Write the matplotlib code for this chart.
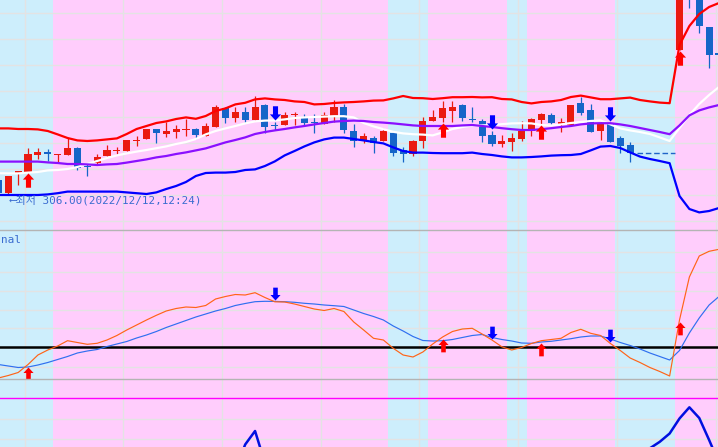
import numpy as np
import matplotlib
matplotlib.use("Agg")
import matplotlib.pyplot as plt
from matplotlib.path import Path
from matplotlib.markers import MarkerStyle
import matplotlib.transforms as mtransforms

nan = np.nan

# ---------------- data (price panel) ----------------
open_ = [316, 309.5, 319, 320, 328.5, 330, 328.5, 328.5, 332, 323,
         324.5, 328, 330.5, 330.5, 335.5, 336.5, 341.5, 339, 340, 341,
         341.5, 338, 342.5, 352, 347, 350, 346, 353.5, 343.5, 343.5,
         348.5, 347.5, 345, 344, 348, 352.5, 340.5, 335.5, 337, 335.5,
         339.5, 331, 329, 335.5, 345.5, 347, 350.5, 353.5, 346.5, 345.5,
         338.5, 334, 335, 336.5, 340.5, 346, 348.5, 343.5, 343.5, 354.5,
         351, 340.5, 344, 337, 333.5, nan, nan, nan, nan, 381,
         421, 411, 392.5, 379.5]
close = [309.5, 318, 320.5, 329, 330, 329, 329, 332, 322, 322.5,
         327.5, 331, 331, 336, 336, 341.5, 339.5, 340.5, 341.5, 341.5,
         338.5, 343, 352.5, 347, 350, 346, 352.5, 342.5, 343, 348.5,
         349, 344.5, 344.5, 348.5, 352.5, 341, 335.5, 338, 334.5, 340.5,
         329.5, 329, 335.5, 345.5, 347.5, 352, 352.5, 347, 346, 338,
         334, 335.5, 337, 340.5, 346.5, 349, 344.5, 345, 353.5, 349.5,
         340, 344.5, 335, 333, 329.5, nan, nan, nan, nan, 411,
         408.5, 393, 378.5, 378.5]
high = [317, 318, 320.5, 332, 332, 331.5, 329, 337, 332.5, 324.5,
        329, 333.5, 332.5, 336, 338, 341.5, 341.5, 345, 343.5, 346.5,
        342, 344.5, 353.5, 352.5, 352.5, 352.5, 358, 354, 345, 350,
        350, 349, 349, 350, 356, 354, 344, 339.5, 338, 342,
        340.5, 332.5, 336, 347.5, 351, 355.5, 355.5, 354, 352.5, 346.5,
        340.5, 338.5, 339.5, 345.5, 347, 349.5, 349.5, 347, 353.5, 357.5,
        354, 345, 344.5, 338, 335, nan, nan, nan, nan, 416,
        423.5, 412, 392.5, 380]
low = [309.5, 309, 313.5, 320, 326.5, 325.5, 324.5, 328.5, 321, 318,
       324, 328, 329, 330.5, 333, 336.5, 334.5, 337.5, 337, 338,
       336.5, 338, 342.5, 344.5, 345, 344.5, 346, 339.5, 341, 343.5,
       343.5, 343, 339.5, 344, 345, 339.5, 332.5, 334.5, 329.5, 335.5,
       328, 325, 328, 332, 345.5, 345, 345, 345.5, 345, 335,
       333, 332.5, 330.5, 335.5, 338, 344, 343.5, 340, 343.5, 348.5,
       340, 336, 335, 329.5, 325, nan, nan, nan, nan, 381,
       402, 389.5, 372, 377]

upper_band = [341.8, 341.8, 341.5, 341.5, 341.3, 340.5, 338.8, 337.0, 335.8, 335.5,
              335.8, 336.3, 336.8, 339.0, 341.5, 343.0, 344.5, 345.3, 346.5, 347.3,
              346.6, 348.0, 350.5, 351.8, 353.8, 354.6, 356.3, 356.8, 356.3, 356.0,
              355.3, 355.0, 353.8, 354.0, 354.5, 354.8, 355.0, 355.3, 355.7, 355.8,
              356.8, 358.0, 357.0, 356.9, 356.5, 356.9, 357.4, 357.4, 357.5, 357.3,
              357.4, 356.5, 356.3, 355.0, 354.3, 355.0, 355.3, 356.0, 357.5, 358.2,
              357.3, 356.4, 356.4, 356.8, 357.2, 356.0, 355.3, 354.7, 354.4, 383.5,
              393.0, 399.0, 402.5, 404.5]
mid_band = [325.2, 325.2, 325.2, 325.2, 325.2, 324.8, 324.5, 324.0, 324.0, 323.8,
            323.5, 323.8, 324.0, 324.7, 325.5, 326.3, 327.3, 328.0, 329.0, 329.8,
            330.8, 331.8, 333.3, 334.8, 336.0, 337.3, 339.0, 340.0, 340.8, 341.5,
            342.3, 343.0, 343.8, 344.5, 345.2, 345.5, 345.7, 345.5, 345.0, 344.7,
            344.3, 343.8, 343.3, 343.0, 343.0, 343.0, 343.0, 343.3, 343.5, 343.0,
            342.5, 341.9, 341.4, 341.0, 341.0, 341.4, 341.9, 342.5, 343.0, 343.8,
            344.3, 344.4, 344.4, 343.8, 343.0, 342.0, 341.0, 340.0, 338.9, 343.3,
            348.3, 350.8, 352.3, 353.5]
lower_band = [308.5, 308.5, 308.5, 308.5, 308.5, 308.8, 309.4, 310.2, 310.2, 310.2,
              310.2, 310.2, 310.2, 309.8, 309.4, 309.0, 309.8, 311.5, 313.0, 315.0,
              318.0, 319.5, 319.7, 319.7, 320.0, 321.0, 321.3, 323.0, 325.3, 328.3,
              330.5, 332.8, 334.8, 336.3, 337.2, 337.2, 336.5, 335.8, 335.0, 334.3,
              332.3, 330.5, 329.7, 329.7, 329.5, 329.4, 329.4, 329.4, 329.7, 329.0,
              328.5, 327.8, 327.3, 327.3, 327.5, 327.8, 328.2, 328.4, 328.5, 329.0,
              330.8, 332.7, 333.0, 332.0, 329.8, 327.7, 326.5, 325.5, 324.4, 308.0,
              301.5, 299.8, 300.5, 302.0]
short_ma = [319.4, 319.3, 319.3, 319.7, 320.0, 320.8, 321.0, 321.5, 322.5, 324.0,
            325.5, 327.0, 328.3, 329.3, 330.2, 331.0, 331.9, 332.8, 334.0, 335.0,
            336.5, 338.8, 340.5, 341.8, 343.0, 344.3, 345.3, 345.7, 345.8, 346.3,
            347.0, 347.3, 347.5, 347.7, 347.9, 347.9, 347.3, 344.5, 342.8, 341.4,
            340.1, 339.3, 338.9, 338.7, 338.3, 339.8, 341.5, 342.5, 343.2, 343.3,
            343.5, 343.9, 344.3, 344.4, 344.3, 343.5, 343.3, 343.8, 344.5, 345.0,
            345.5, 345.8, 343.8, 341.8, 340.8, 340.0, 339.0, 337.3, 335.5, 342.0,
            348.5, 354.0, 358.5, 362.5]

# ---------------- data (MACD panel) ----------------
macd = [-3.1, -2.85, -2.55, -1.75, -0.8, -0.3, 0.1, 0.63, 0.45, 0.27,
        0.37, 0.7, 1.15, 1.7, 2.2, 2.7, 3.17, 3.6, 3.85, 4.0,
        3.95, 4.15, 4.8, 5.05, 5.25, 5.2, 5.43, 4.95, 4.52, 4.5,
        4.3, 4.05, 3.8, 3.65, 3.85, 3.55, 2.5, 1.7, 0.87, 0.7,
        -0.13, -0.8, -1.0, -0.5, 0.3, 1.0, 1.55, 1.8, 1.87, 1.3,
        0.7, 0.02, -0.3, -0.05, 0.35, 0.63, 0.75, 0.87, 1.45, 1.77,
        1.37, 1.15, 0.35, -0.35, -1.1, -1.55, -2.05, -2.45, -2.9, 2.7,
        7.0, 9.1, 9.57, 9.77]
signal = [-1.75, -1.9, -2.05, -2.0, -1.8, -1.55, -1.25, -0.95, -0.6, -0.4,
          -0.25, 0.05, 0.3, 0.55, 0.9, 1.2, 1.55, 1.95, 2.3, 2.65,
          3.0, 3.3, 3.6, 3.85, 4.15, 4.35, 4.53, 4.57, 4.56, 4.53,
          4.47, 4.37, 4.3, 4.2, 4.13, 4.05, 3.7, 3.35, 3.05, 2.7,
          2.1, 1.6, 1.05, 0.65, 0.6, 0.63, 0.75, 0.95, 1.15, 1.25,
          0.95, 0.75, 0.6, 0.4, 0.37, 0.5, 0.57, 0.7, 0.83, 1.0,
          1.1, 1.1, 0.8, 0.45, 0.15, -0.2, -0.6, -0.95, -1.3, -0.35,
          1.4, 2.9, 4.2, 5.05]

# ---------------- data (lower oscillator panel) ----------------
osc = [nan] * 23 + [0, 8, 33.5, 47, 15, 0] + [nan] * 34 + \
      [10, 17, 23.3, 29.7, 36.2, 44.5, 59.5, 70.7, 60, 38, 15]

buy_idx = [3, 45, 55, 69]
sell_idx = [28, 50, 62]
low_label = "⟵최저 306.00(2022/12/12,12:24)"
low_value = 306.0
panel_label = "nal"
osc_level = 80

# ---------------- styling ----------------
W, H = 718, 447
BLUE_BG = "#cdeefc"
PINK_BG = "#ffcdfc"
GRID = "#e3e3e3"
RED_C = "#ea1a10"
BLUE_C = "#1565c8"

slots = np.arange(len(open_))
o = np.array(open_, float); c = np.array(close, float)
hi = np.array(high, float); lo = np.array(low, float)

fig = plt.figure(figsize=(W / 100, H / 100), dpi=100)
ax1 = fig.add_axes([0, 1 - 230 / H, 1, 230 / H])
ax2 = fig.add_axes([0, 1 - 379 / H, 1, 149 / H])
ax3 = fig.add_axes([0, 0, 1, 68 / H])

ax1.set_ylim(291, 406)
ax2.set_ylim(-3.2, 11.7)
ax3.set_ylim(31, 99)

# background runs by MACD sign
state = np.array(macd) < 0
runs = []
start = 0
for i in range(1, len(state) + 1):
    if i == len(state) or state[i] != state[start]:
        runs.append((start - 0.5, i - 0.5, state[start]))
        start = i

vgrid = np.arange(2.65, 74, 10)
hgrids = {ax1: 295.5 + 13 * np.arange(9),
          ax2: [-2, 1.9, 3.7, 5.6, 7.5, 9.5],
          ax3: [39, 59]}
for ax in (ax1, ax2, ax3):
    ax.set_xlim(0.16, 72.9)
    for a, b, s in runs:
        ax.axvspan(a, b, color=BLUE_BG if s else PINK_BG, lw=0, zorder=0)
    for gx in vgrid:
        ax.axvline(gx, color=GRID, lw=1.0, zorder=0.5)
    for gy in hgrids[ax]:
        ax.axhline(gy, color=GRID, lw=1.0, zorder=0.5)
    ax.set_xticks([]); ax.set_yticks([])
    for sp in ax.spines.values():
        sp.set_visible(False)
for ax in (ax2, ax3):
    ax.spines["top"].set_visible(True)
    ax.spines["top"].set_color("#b4b4b4")
    ax.spines["top"].set_linewidth(1.0)

# candles
valid = ~np.isnan(o)
up = valid & (c >= o)
dn = valid & (c < o)
for mask, col in ((up, RED_C), (dn, BLUE_C)):
    ax1.vlines(slots[mask], lo[mask], hi[mask], color=col, lw=0.9, zorder=3)
    ax1.bar(slots[mask], np.maximum(np.abs(c - o)[mask], 0.5),
            bottom=np.minimum(o, c)[mask], width=0.72, color=col, lw=0, zorder=3)

# band lines
ax1.plot(slots, short_ma, color="#ffffff", lw=1.6, zorder=4)
ax1.plot(slots, mid_band, color="#8a10ff", lw=1.6, zorder=4)
ax1.plot(slots, upper_band, color="#ff0000", lw=1.6, zorder=4)
ax1.plot(slots, lower_band, color="#0000ff", lw=1.6, zorder=4)

# dashed reference line after last candle before gap
last = 64
ax1.hlines(c[last], last + 0.65, last + 4.5, colors="#1e64c8",
           linestyles=(0, (4, 2)), lw=1.0, zorder=4)

# arrow markers
uv = [(0, 0), (5.5, -6), (2.5, -6), (2.5, -14), (-2.5, -14), (-2.5, -6), (-5.5, -6), (0, 0)]
codes = [Path.MOVETO] + [Path.LINETO] * 6 + [Path.CLOSEPOLY]
up_m = MarkerStyle(Path(uv, codes))
dn_m = MarkerStyle(Path([(x, -y) for x, y in uv], codes))

bi = np.array(buy_idx); si = np.array(sell_idx)
ax1.plot(bi, lo[bi] - 0.6, ls="none", marker=up_m, ms=20.5, color="#ff0000", mew=0, zorder=6)
ax1.plot(si, hi[si] + 0.8, ls="none", marker=dn_m, ms=20.5, color="#0000ff", mew=0, zorder=6)

# low label
tr = mtransforms.blended_transform_factory(ax1.transAxes, ax1.transData)
ax1.text(10 / W, low_value, low_label, transform=tr, ha="left", va="center",
         fontsize=7.9, color="#3a6cd0", zorder=7,
         family=["DejaVu Sans Mono", "DejaVu Sans", "Noto Sans CJK KR"])

# MACD panel
mc = np.array(macd)
ax2.axhline(0, color="black", lw=1.8, zorder=2)
ax2.plot(slots, signal, color="#2f6ff0", lw=0.85, zorder=3)
ax2.plot(slots, macd, color="#ff6418", lw=0.85, zorder=3)
ax2.plot(bi, mc[bi] - 0.2, ls="none", marker=up_m, ms=18.5, color="#ff0000", mew=0, zorder=6)
ax2.plot(si, mc[si] + 0.15, ls="none", marker=dn_m, ms=18.5, color="#0000ff", mew=0, zorder=6)
ax2.text(1 / W, (379 - 240) / 149, panel_label, transform=ax2.transAxes,
         ha="left", va="center", fontsize=7.9, color="#3a6cd0",
         family=["DejaVu Sans Mono", "DejaVu Sans"])

# lower oscillator panel
ax3.axhline(osc_level, color="#ff00ff", lw=1.0, zorder=2)
ax3.plot(slots, osc, color="#0010e0", lw=1.8, zorder=3)

fig.savefig("out.png", dpi=100)
